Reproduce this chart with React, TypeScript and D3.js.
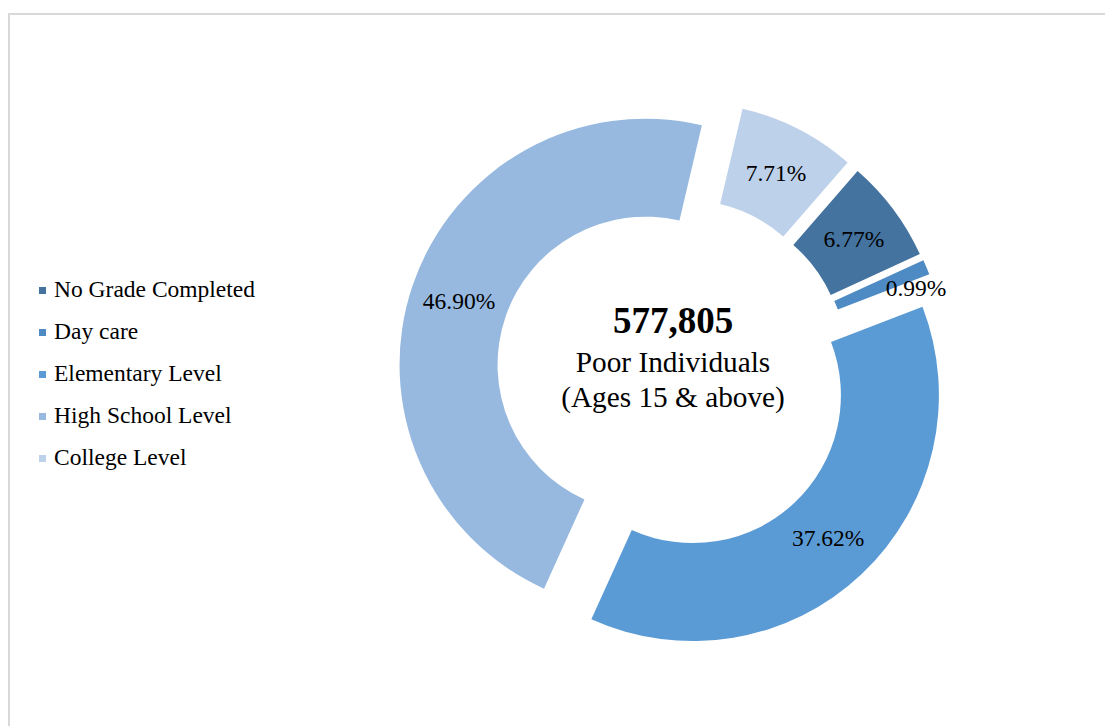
import React from "react";
import * as d3 from "d3";

const categories = ["No Grade Completed", "Day care", "Elementary Level", "High School Level", "College Level"];
const values = [6.77, 0.99, 37.62, 46.9, 7.71];
const labels = ["6.77%", "0.99%", "37.62%", "46.90%", "7.71%"];
const colors = ["#44739F", "#4E8AC4", "#5B9BD5", "#97B9E0", "#BDD1EA"];
const totalText = "577,805";
const subtitleLines = ["Poor Individuals", "(Ages 15 & above)"];

const W = 1105;
const H = 726;
const cx = 673;
const cy = 374;
const outerR = 246;
const innerR = 148;
const explode = 29;
const startDeg = 41;
const font = "'Liberation Serif', 'Times New Roman', serif";

export default function App() {
  const pie = d3
    .pie<number>()
    .sort(null)
    .value((d) => d)
    .startAngle((startDeg * Math.PI) / 180)
    .endAngle((startDeg * Math.PI) / 180 + 2 * Math.PI);
  const arcs = pie(values);
  const arc = d3.arc<d3.PieArcDatum<number>>().innerRadius(innerR).outerRadius(outerR);
  const midR = (innerR + outerR) / 2;

  return (
    <svg
      width={W}
      height={H}
      style={{ position: "absolute", left: 0, top: 0, background: "#fff" }}
      fontFamily={font}
    >
      <rect x={9} y={14} width={W + 20} height={H + 20} fill="#fff" stroke="#D9D9D9" strokeWidth={2} />
      {arcs.map((a, i) => {
        const mid = (a.startAngle + a.endAngle) / 2;
        const ox = Math.sin(mid) * explode;
        const oy = -Math.cos(mid) * explode;
        // tiny slice label is pushed outward like Excel does
        const small = a.endAngle - a.startAngle < 0.1;
        const lr = small ? 229 : midR;
        const la = small ? mid + (3.7 * Math.PI) / 180 : mid;
        const lx = ox + Math.sin(la) * lr;
        const ly = oy - Math.cos(la) * lr;
        return (
          <g key={categories[i]} transform={`translate(${cx},${cy})`}>
            <path d={arc(a) || ""} transform={`translate(${ox},${oy})`} fill={colors[i]} />
            <text x={lx} y={ly} textAnchor="middle" dominantBaseline="central" fontSize={23.5} fill="#000">
              {labels[i]}
            </text>
          </g>
        );
      })}
      <text x={cx} y={333} textAnchor="middle" fontSize={37} fontWeight="bold" fill="#000">
        {totalText}
      </text>
      {subtitleLines.map((t, i) => (
        <text key={t} x={cx} y={372 + i * 35} textAnchor="middle" fontSize={29.3} fill="#000">
          {t}
        </text>
      ))}
      {categories.map((c, i) => (
        <g key={c} transform={`translate(39, ${297 + i * 42})`}>
          <rect x={0} y={-10} width={7} height={7} fill={colors[i]} />
          <text x={15} y={0} fontSize={23.5} fill="#000">
            {c}
          </text>
        </g>
      ))}
    </svg>
  );
}
